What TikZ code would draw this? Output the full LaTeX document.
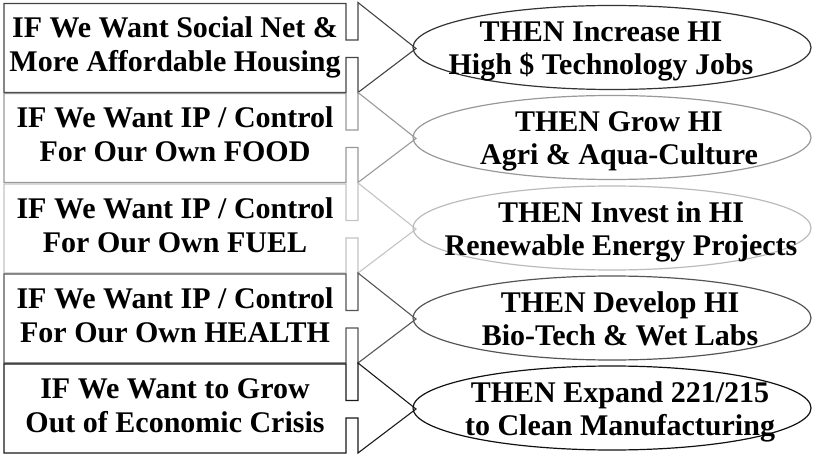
\documentclass[tikz,border=0pt]{standalone}
\usepackage{fontspec}
\setmainfont{Liberation Serif}
\usetikzlibrary{shapes.geometric}
\definecolor{cA}{HTML}{444444}
\definecolor{cB}{HTML}{999999}
\definecolor{cC}{HTML}{C4C4C4}
\definecolor{cD}{HTML}{555555}
\definecolor{cE}{HTML}{1A1A1A}
\definecolor{eA}{HTML}{333333}
\definecolor{eB}{HTML}{999999}
\definecolor{eC}{HTML}{BBBBBB}
\definecolor{eD}{HTML}{555555}
\definecolor{eE}{HTML}{111111}
\tikzset{
  callout/.style={line width=1.1pt, line join=miter},
  ell/.style={ellipse, draw, line width=1.2pt, minimum width=398pt, minimum height=84pt, inner sep=0pt},
  txt/.style={font=\bfseries\fontsize{30}{33}\selectfont, anchor=base, inner sep=0pt, text=black},
}
\newcommand\myrow[9]{%
  \draw[callout,draw=#3] (4,#2-45) coordinate (r#1tl) -- (346,#2-45) -- (346,#2-8.5) -- (358,#2-8.5)
     -- (358,#2-46) -- (416,#2) coordinate (tip#1) -- (358,#2+44) -- (358,#2+9) -- (346,#2+9)
     -- (346,#2+44) -- (4,#2+44) -- cycle;
  \node[ell,draw=#4] (e#1) at (612,#2-1) {};
  \node[txt] (b#1a) at (175,#2-10.5) {#5};
  \node[txt] (b#1b) at (175,#2+23.5) {#6};
  \node[txt] (t#1a) at (#9,#2-6.5) {#7};
  \node[txt] (t#1b) at (#9,#2+26.5) {#8};
}
\begin{document}
\begin{tikzpicture}[x=1pt,y=-1pt]
\useasboundingbox (0,0) rectangle (813,454);
\fill[white] (0,0) rectangle (813,454);
\myrow{1}{48.5}{cA}{eA}{IF We Want Social Net \&}{More Affordable Housing}{THEN Increase HI}{High \$ Technology Jobs}{601}
\myrow{2}{138.5}{cB}{eB}{IF We Want IP / Control}{For Our Own FOOD}{THEN Grow HI}{Agri \& Aqua-Culture}{619}
\myrow{3}{229}{cC}{eC}{IF We Want IP / Control}{For Our Own FUEL}{THEN Invest in HI}{Renewable Energy Projects}{621}
\myrow{4}{319}{cD}{eD}{IF We Want IP / Control}{For Our Own HEALTH}{THEN Develop HI}{Bio-Tech \& Wet Labs}{620}
\myrow{5}{409}{cE}{eE}{IF We Want to Grow}{Out of Economic Crisis}{THEN Expand 221/215}{to Clean Manufacturing}{620}
\end{tikzpicture}
\end{document}
